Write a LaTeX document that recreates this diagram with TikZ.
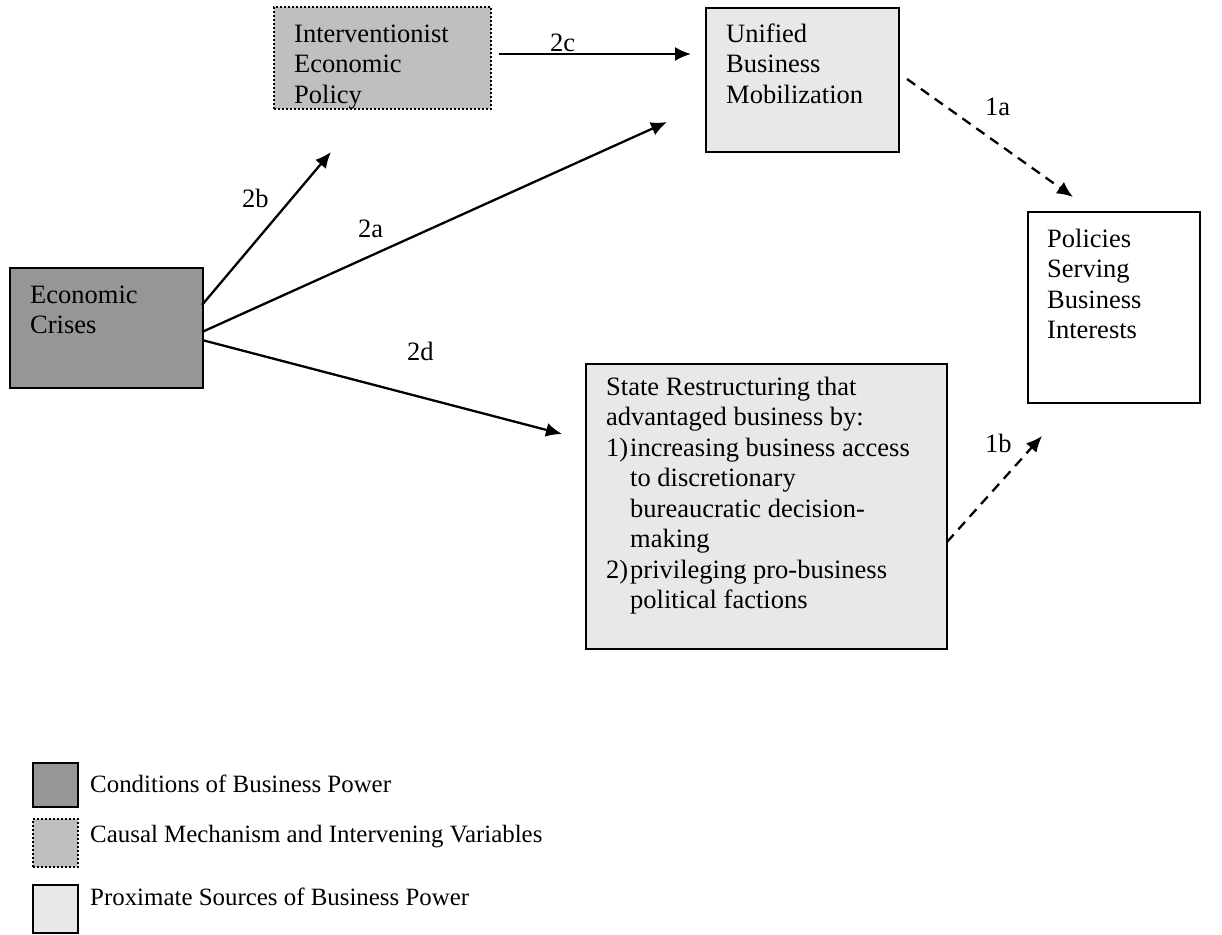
\documentclass[tikz,border=0pt]{standalone}
\usepackage{fontspec}
\setmainfont{Liberation Serif}
\usetikzlibrary{arrows.meta}
\definecolor{cdark}{gray}{0.59}
\definecolor{cmid}{gray}{0.75}
\definecolor{clight}{gray}{0.91}
\newcommand{\fs}{\fontsize{26.5}{30.5}\selectfont}
\newcommand{\fl}{\fontsize{24.9}{30}\selectfont}
\tikzset{
  box/.style={draw, line width=2pt, inner sep=0pt, anchor=north west},
  txt/.style={anchor=base west, align=left, inner sep=0pt, font=\fs},
  lbl/.style={anchor=base west, inner sep=0pt, font=\fs},
  leg/.style={anchor=base west, inner sep=0pt, font=\fl},
  arr/.style={line width=2.3pt, -{Latex[length=16pt,width=14pt]}},
  darr/.style={arr, dash pattern=on 10pt off 7pt},
}
\begin{document}
\begin{tikzpicture}[x=1pt,y=-1pt]
\useasboundingbox (0,0) rectangle (1222,934);
% boxes
\node[box, fill=cdark, minimum width=193pt, minimum height=120pt] (ec) at (9,267) {};
\node[box, fill=cmid, dotted, minimum width=217pt, minimum height=102pt] (iep) at (273,6) {};
\node[box, fill=clight, minimum width=193pt, minimum height=144pt] (ubm) at (705,7) {};
\node[box, fill=white, minimum width=172pt, minimum height=191pt] (psbi) at (1027,211) {};
\node[box, fill=clight, minimum width=361pt, minimum height=285pt] (sr) at (585,363) {};
% texts (anchored at the baseline of their last line)
\node[txt] (ect) at (30,333.5) {Economic\\Crises};
\node[txt] (iept) at (294,103) {Interventionist\\Economic\\Policy};
\node[txt] (ubmt) at (726,103) {Unified\\Business\\Mobilization};
\node[txt] (psbit) at (1047,338.5) {Policies\\Serving\\Business\\Interests};
\node[txt] (srt) at (606,608.5) {State Restructuring that\\advantaged business by:\\
  \makebox[24pt][l]{1)}increasing business access\\
  \hspace*{24pt}to discretionary\\
  \hspace*{24pt}bureaucratic decision-\\
  \hspace*{24pt}making\\
  \makebox[24pt][l]{2)}privileging pro-business\\
  \hspace*{24pt}political factions};
% connector end points
\coordinate (s2b) at (202,305);
\coordinate (e2b) at (331,152);
\coordinate (s2a) at (202,332);
\coordinate (e2a) at (667,122);
\coordinate (s2d) at (202,340);
\coordinate (e2d) at (562,434);
\coordinate (s2c) at (499,54);
\coordinate (e2c) at (691,54);
\coordinate (s1a) at (907,79);
\coordinate (e1a) at (1073,197);
\coordinate (s1b) at (947,542);
\coordinate (e1b) at (1042,436);
% connectors
\draw[arr] (s2b) -- (e2b);
\draw[arr] (s2a) -- (e2a);
\draw[arr] (s2d) -- (e2d);
\draw[arr] (s2c) -- (e2c);
\draw[darr] (s1a) -- (e1a);
\draw[darr] (s1b) -- (e1b);
% labels
\node[lbl] (l2b) at (242,207) {2b};
\node[lbl] (l2a) at (358,237) {2a};
\node[lbl] (l2d) at (407,360) {2d};
\node[lbl] (l2c) at (550,52) {2c};
\node[lbl] (l1a) at (985,115) {1a};
\node[lbl] (l1b) at (985,452) {1b};
% legend
\node[box, fill=cdark, minimum width=45pt, minimum height=44pt] (lg1) at (32,762) {};
\node[box, fill=cmid, dotted, minimum width=45pt, minimum height=48pt] (lg2) at (32,818) {};
\node[box, fill=clight, minimum width=45pt, minimum height=48pt] (lg3) at (32,884) {};
\node[leg] (lt1) at (90,792) {Conditions of Business Power};
\node[leg] (lt2) at (90,842) {Causal Mechanism and Intervening Variables};
\node[leg] (lt3) at (90,905) {Proximate Sources of Business Power};
\end{tikzpicture}
\end{document}
